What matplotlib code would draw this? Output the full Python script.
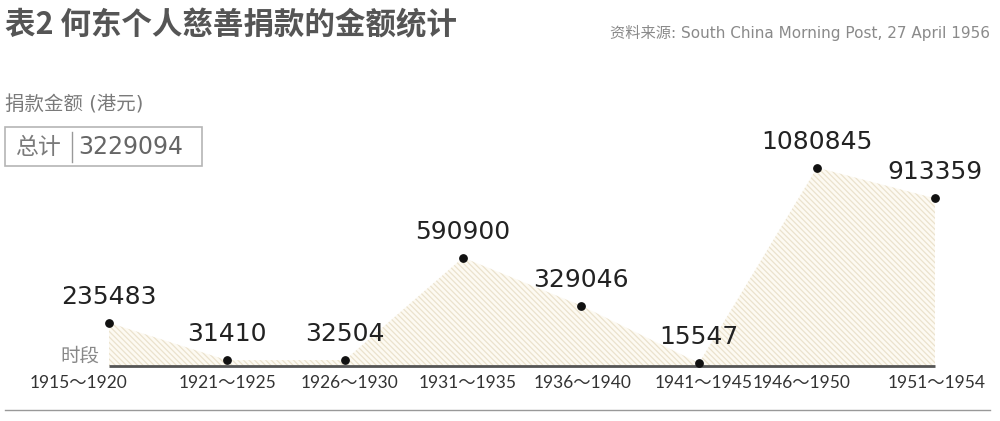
import matplotlib
matplotlib.use("Agg")
import matplotlib.pyplot as plt
import numpy as np

# data
periods = ["1915～1920", "1921～1925", "1926～1930", "1931～1935",
           "1936～1940", "1941～1945", "1946～1950", "1951～1954"]
amounts = [235483, 31410, 32504, 590900, 329046, 15547, 1080845, 913359]
total = 3229094

plt.rcParams['font.family'] = ['DejaVu Sans', 'Noto Sans CJK SC']
plt.rcParams['hatch.linewidth'] = 0.9
plt.rcParams['hatch.color'] = '#ebe2cd'

W, H = 1000, 421
fig = plt.figure(figsize=(W / 100, H / 100), dpi=100)
ax = fig.add_axes([0, 0, 1, 1])

# pixel mapping: index 0 at x=109, 118 px per step; baseline at 55 px from bottom
x0, step = 109, 118
per_px = 5450
ax.set_xlim(-x0 / step, (W - x0) / step)
ax.set_ylim(-55 * per_px, (H - 55) * per_px)
ax.axis('off')

x = np.arange(len(amounts))
ax.fill_between(x, amounts, 0, facecolor='#fdfaf2', hatch='\\\\\\\\\\\\',
                edgecolor='#ebe2cd', linewidth=0)
ax.plot(x, [0] * len(x), color='#555555', lw=2, solid_capstyle='butt')
ax.scatter(x, amounts, s=28, color='#111111', zorder=5)

for i, v in enumerate(amounts):
    ax.annotate(str(v), (i, v), xytext=(0, 14), textcoords='offset pixels',
                ha='center', va='bottom', fontsize=18, color='#222222')

label_nudge = [-30, 0, 4, 5, 2, 5, -15, 2]
for i, lab in enumerate(periods):
    ax.annotate(lab, (i, 0), xytext=(label_nudge[i], -17), textcoords='offset pixels',
                ha='center', va='center', fontsize=12.5, color='#333333',
                family=['Lato', 'Noto Sans CJK SC'])

ax.annotate("时段", (0, 0), xytext=(-29, 10), textcoords='offset pixels',
            ha='center', va='center', fontsize=14, color='#888888')

# header texts
fig.text(5 / W, 1 - 25 / H, "表2 何东个人慈善捐款的金额统计", fontsize=22,
         fontweight='bold', color='#555555', va='center', ha='left',
         family=['Noto Sans CJK SC'])
fig.text(990 / W, 1 - 33 / H, "资料来源: South China Morning Post, 27 April 1956",
         fontsize=11, color='#8a8a8a', va='center', ha='right')
fig.text(5 / W, 1 - 105 / H, "捐款金额 (港元)", fontsize=14, color='#7a7a7a',
         va='center', ha='left')

# total box
box = plt.Rectangle((5 / W, 1 - 166 / H), 197 / W, 39 / H, transform=fig.transFigure,
                    fill=False, edgecolor='#b5b5b5', lw=1.2)
fig.add_artist(box)
fig.add_artist(plt.Line2D([72 / W, 72 / W], [1 - 132 / H, 1 - 162 / H],
                          transform=fig.transFigure, color='#999999', lw=1))
fig.text(15 / W, 1 - 147 / H, "总计", fontsize=16.5, color='#7a7a7a', va='center', ha='left')
fig.text(78 / W, 1 - 147 / H, str(total), fontsize=17, color='#666666',
         va='center', ha='left')

# bottom rule
fig.add_artist(plt.Line2D([5 / W, 990 / W], [1 - 410 / H, 1 - 410 / H],
                          transform=fig.transFigure, color='#999999', lw=1))

fig.savefig("out.png", dpi=100, facecolor='white')
